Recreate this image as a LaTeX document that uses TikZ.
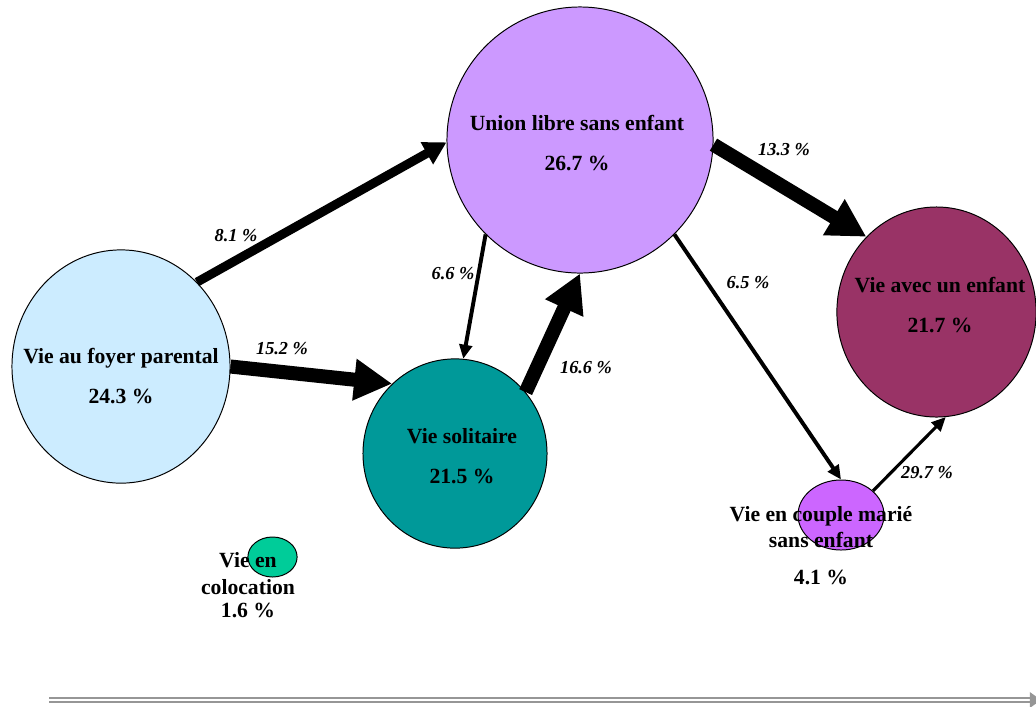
\documentclass[tikz,border=0pt]{standalone}
\usepackage{fontspec}
\setmainfont{Liberation Serif}
\usetikzlibrary{arrows.meta, shapes.geometric}
\definecolor{cfoyer}{HTML}{CCECFF}
\definecolor{cunion}{HTML}{CC99FF}
\definecolor{csolo}{HTML}{009999}
\definecolor{cenfant}{HTML}{993366}
\definecolor{cmarie}{HTML}{CC66FF}
\definecolor{ccoloc}{HTML}{00CC99}
\definecolor{caxis}{HTML}{969696}
\tikzset{
  bubble/.style={ellipse, draw=black, line width=0.7pt, fill=#1, inner sep=0pt},
  txt/.style={font=\fontsize{15.4}{19}\selectfont\bfseries, align=center, inner sep=0pt},
  pct/.style={font=\fontsize{13}{15}\selectfont\bfseries\itshape, inner sep=0pt},
  thinflow/.style={draw=black, line width=2.8pt, -{Triangle[length=10pt, width=9pt]}},
  midflow/.style={draw=black, line width=6.4pt, -{Triangle[length=16pt, width=17pt]}},
  bigflow/.style={draw=black, line width=10pt, -{Triangle[length=27pt, width=28pt]}},
  axis/.style={draw=caxis, line width=1.6pt, double=white, double distance=1.4pt},
}
\begin{document}
\begin{tikzpicture}[x=0.025cm, y=-0.025cm]
  \useasboundingbox (0,0) rectangle (1036,706);
  % states
  \node[bubble=cfoyer, minimum width=5.45cm, minimum height=5.83cm] (foyer) at (121,366.5) {};
  \node[bubble=cunion, minimum width=6.65cm, minimum height=6.65cm] (union) at (580,140) {};
  \node[bubble=csolo, minimum width=4.6cm, minimum height=4.73cm] (solo) at (455,453.5) {};
  \node[bubble=cenfant, minimum width=4.98cm, minimum height=5.25cm] (enfant) at (936.5,312) {};
  \node[bubble=cmarie, minimum width=2.15cm, minimum height=1.75cm] (marie) at (841,515) {};
  \node[bubble=ccoloc, minimum width=1.23cm, minimum height=1.0cm] (coloc) at (272.5,557) {};
  % flows
  \draw[midflow] (foyer.48) -- (union.181);
  \draw[bigflow] (foyer.0) -- (solo.132);
  \draw[thinflow] (union.225) -- (solo.85);
  \draw[bigflow] (solo.41) -- (union.270);
  \draw[bigflow] (union.358) -- (enfant.133);
  \draw[thinflow] (union.315) -- (marie.90);
  \draw[thinflow, line width=2.2pt] (marie.37) -- (enfant.275);
  % texts
  \node[txt] (foyer-t) at (121,376) {Vie au foyer parental\\[9.4pt]24.3 \%};
  \node[txt] (union-t) at (577,143) {Union libre sans enfant\\[9.4pt]26.7 \%};
  \node[txt] (solo-t) at (462,456) {Vie solitaire\\[9.4pt]21.5 \%};
  \node[txt] (enfant-t) at (940,305) {Vie avec un enfant\\[9.4pt]21.7 \%};
  \node[txt] (marie-t) at (821,545.5) {Vie en couple marié\\sans enfant\\[7.3pt]4.1 \%};
  \node[txt] (coloc-t) at (248,585) {Vie en\\colocation\\[-2.5pt]1.6 \%};
  % rates
  \node[pct] (r81) at (236,236) {8.1 \%};
  \node[pct] (r152) at (282,349) {15.2 \%};
  \node[pct] (r66) at (453,274) {6.6 \%};
  \node[pct] (r166) at (586,368) {16.6 \%};
  \node[pct] (r133) at (784,150) {13.3 \%};
  \node[pct] (r65) at (748,283) {6.5 \%};
  \node[pct] (r297) at (927,473) {29.7 \%};
  % time axis
  \coordinate (t0) at (49,700);
  \coordinate (t1) at (1041,700);
  \draw[axis, -{Triangle[length=8pt, width=11pt]}] (t0) -- (t1);
\end{tikzpicture}
\end{document}
